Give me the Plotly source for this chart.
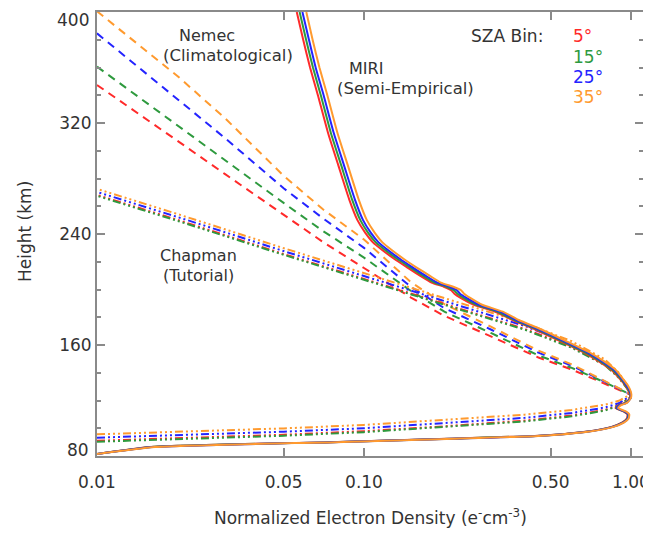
import plotly.graph_objects as go

# ---------------- data ----------------
sza_labels = ["5°", "15°", "25°", "35°"]
colors = ["#FF2A2A", "#2E9A3E", "#2424FF", "#FF9A2E"]

# MIRI (semi-empirical), solid lines: shared heights, one x array per SZA bin
h_miri = [81.5, 86.5, 90, 92.5, 94.5, 97.5, 101, 104, 107, 110, 112, 114.5, 116.5,
          118.5, 122, 126, 130, 136, 142, 148, 154, 163, 171, 178, 184, 189, 194,
          197, 199.5, 202, 205, 210, 216, 222, 228.5, 234, 241, 250, 265, 290, 313,
          340, 360, 380, 400]
x_miri_5 = [0.0100, 0.0158, 0.074, 0.205, 0.435, 0.675, 0.845, 0.925, 0.965, 0.97,
            0.94, 0.875, 0.895, 0.955, 0.995, 0.985, 0.96, 0.905, 0.845, 0.76, 0.675,
            0.54, 0.44, 0.36, 0.31, 0.258, 0.23, 0.218, 0.212, 0.199, 0.179, 0.162,
            0.145, 0.130, 0.117, 0.108, 0.101, 0.0945, 0.0880, 0.0800, 0.0733,
            0.0672, 0.0628, 0.0592, 0.0560]
x_miri_15 = [0.0100, 0.0160, 0.075, 0.21, 0.44, 0.68, 0.85, 0.93, 0.97, 0.975,
             0.945, 0.88, 0.90, 0.96, 0.997, 0.99, 0.965, 0.913, 0.855, 0.771, 0.686,
             0.549, 0.448, 0.366, 0.316, 0.264, 0.236, 0.224, 0.217, 0.204, 0.1835,
             0.166, 0.1486, 0.1333, 0.120, 0.1107, 0.1035, 0.0969, 0.0902, 0.0820,
             0.0751, 0.0689, 0.0644, 0.0607, 0.0574]
x_miri_25 = [0.0100, 0.0162, 0.076, 0.215, 0.445, 0.685, 0.855, 0.935, 0.975, 0.98,
             0.95, 0.885, 0.905, 0.965, 0.998, 0.995, 0.97, 0.922, 0.866, 0.783, 0.697,
             0.558, 0.455, 0.372, 0.323, 0.270, 0.242, 0.229, 0.223, 0.209, 0.188,
             0.170, 0.152, 0.1365, 0.1229, 0.1134, 0.1060, 0.0992, 0.0924, 0.0840,
             0.0770, 0.0706, 0.0659, 0.0622, 0.0588]
x_miri_35 = [0.0100, 0.0165, 0.078, 0.22, 0.45, 0.69, 0.86, 0.94, 0.98, 0.985,
             0.96, 0.895, 0.915, 0.97, 1.0, 1.0, 0.98, 0.93, 0.877, 0.796, 0.71,
             0.569, 0.464, 0.380, 0.331, 0.277, 0.250, 0.237, 0.231, 0.216, 0.194,
             0.176, 0.157, 0.141, 0.127, 0.1172, 0.1096, 0.1025, 0.0955, 0.0868,
             0.0795, 0.0729, 0.0681, 0.0642, 0.0608]

# Nemec (climatological), dashed lines: shared densities, one height array per SZA bin
x_nemec = [0.01, 0.015, 0.02, 0.03, 0.05, 0.07, 0.1, 0.15, 0.2, 0.3, 0.45, 0.6, 0.8, 1.0]
h_nemec_5 = [347.4, 324.1, 307.2, 283.5, 253.7, 234.4, 215.5, 194.2, 181, 166.1, 151, 142.3, 132.3, 124]
h_nemec_15 = [360.6, 335.8, 318.2, 293.5, 262.4, 242.3, 223.0, 198.9, 184, 168.5, 152.5, 143.5, 133, 124.2]
h_nemec_25 = [384.6, 357.1, 337.4, 309.5, 273.0, 251.5, 230.0, 201.8, 186.5, 171, 154.5, 145, 133.5, 124.3]
h_nemec_35 = [400.5, 373.3, 353.9, 323.9, 282.0, 258.0, 236.0, 205.2, 189.5, 173, 156, 146, 134, 124.5]

# Chapman (tutorial), dash-dot-dot-dot lines: bottomside then topside
x_chap = [0.01, 0.02, 0.05, 0.1, 0.2, 0.4, 0.6, 0.8, 0.9, 1.0,
          0.97, 0.9, 0.8, 0.6, 0.4, 0.2, 0.1, 0.05, 0.02, 0.01]
h_chap_5 = [91.0, 92.8, 95.3, 97.9, 101.4, 105.5, 109.2, 113.3, 116.6, 122.8,
            128.6, 136.9, 145.8, 158.6, 171.6, 189.6, 207.6, 225.6, 250.2, 268.2]
h_chap_15 = [90.3, 92.1, 94.6, 97.2, 100.8, 104.9, 108.6, 112.8, 116.2, 122.5,
             128.3, 136.4, 145.3, 158.0, 171.0, 189.0, 207.0, 225.0, 249.5, 267.5]
h_chap_25 = [93.2, 95.0, 97.5, 100.0, 103.5, 107.5, 111.0, 115.0, 118.0, 123.5,
             129.7, 138.4, 147.7, 160.7, 173.7, 191.7, 209.7, 227.7, 252.3, 270.3]
h_chap_35 = [95.6, 97.4, 99.9, 102.4, 105.9, 109.8, 113.2, 117.0, 119.8, 124.5,
             131.0, 140.0, 149.5, 162.7, 175.8, 193.8, 211.8, 229.8, 254.4, 272.5]

x_tickvals = [0.01, 0.05, 0.1, 0.5, 1.0]
x_ticktext = ["0.01", "0.05", "0.10", "0.50", "1.00"]
# inner labelled y ticks; the end labels "80" and "400" are drawn nudged inward
# (as in the original) via annotations below
y_tickvals = [160, 240, 320]
y_end_labels = ["80", "400"]
y_minor = [80, 100, 120, 140, 160, 180, 200, 220, 240, 260, 280, 300, 320, 340, 360, 380, 400]

# ---------------- figure ----------------
FONT = "DejaVu Sans"
fig = go.Figure()

miri_x = [x_miri_5, x_miri_15, x_miri_25, x_miri_35]
nemec_h = [h_nemec_5, h_nemec_15, h_nemec_25, h_nemec_35]
chap_h = [h_chap_5, h_chap_15, h_chap_25, h_chap_35]

for i in range(4):
    fig.add_trace(go.Scatter(x=x_nemec, y=nemec_h[i], mode="lines",
                             line=dict(color=colors[i], width=2, dash="8px,6px"),
                             name="Nemec " + sza_labels[i], showlegend=False))
for i in range(4):
    fig.add_trace(go.Scatter(x=x_chap, y=chap_h[i], mode="lines",
                             line=dict(color=colors[i], width=2,
                                       dash="8px,3px,2px,3px,2px,3px,2px,3px"),
                             name="Chapman " + sza_labels[i], showlegend=False))
for i in range(4):
    fig.add_trace(go.Scatter(x=miri_x[i], y=h_miri, mode="lines",
                             line=dict(color=colors[i], width=2, shape="spline", smoothing=0.5),
                             name="MIRI " + sza_labels[i], showlegend=False))

# the page body has an 8px margin, so the figure is sized/offset to compensate
W, H = 643, 525
L, R, T, B = 89, 8, 4, 77
pw, ph = W - L - R, H - T - B
PLOT_LEFT, PLOT_BOTTOM = 97, 456   # plot area position in the browser window


def px(xp):
    return (xp - PLOT_LEFT) / pw


def py(yp):
    return (PLOT_BOTTOM - yp) / ph


txt = "#333333"
ann = []


def add(text, x, y, color=txt, size=16, xanchor="center"):
    ann.append(dict(text=text, x=px(x), y=py(y), xref="paper", yref="paper",
                    showarrow=False, xanchor=xanchor, yanchor="middle",
                    font=dict(family=FONT, size=size, color=color)))


add("Nemec", 207, 35.5)
add("(Climatological)", 228, 55, size=16.5)
add("MIRI", 366, 68.5)
add("(Semi-Empirical)", 405, 88, size=16.5)
add("Chapman", 198, 255.5)
add("(Tutorial)", 198, 275)
add("SZA Bin:", 507, 36, size=17)
for i, lab in enumerate(sza_labels):
    add(lab, 571, 36 + i * 20.5, color=colors[i], size=17, xanchor="left")
add("Normalized Electron Density (e<sup>-</sup>cm<sup>-3</sup>)", 370, 517, size=17)
add(y_end_labels[0], 91, 450, size=17, xanchor="right")
add(y_end_labels[1], 91, 20, size=17, xanchor="right")
ann.append(dict(text="Height (km)", x=px(25), y=py(232), xref="paper", yref="paper",
                showarrow=False, textangle=-90, xanchor="center", yanchor="middle",
                font=dict(family=FONT, size=17, color=txt)))

axis_common = dict(showgrid=False, zeroline=False, showline=True, linecolor="#8a8a8a",
                   linewidth=2, mirror="ticks", ticks="inside", tickcolor="#8a8a8a",
                   tickwidth=1.5, ticklen=8, automargin=False, ticklabeloverflow="allow",
                   tickfont=dict(family=FONT, size=17, color=txt))

fig.update_layout(
    width=W, height=H,
    margin=dict(l=L, r=R, t=T, b=B),
    plot_bgcolor="white", paper_bgcolor="white",
    showlegend=False,
    annotations=ann,
    xaxis=dict(type="log", range=[-2, 0.045], tickvals=x_tickvals, ticktext=x_ticktext,
               ticklabelstandoff=10, **axis_common),
    yaxis=dict(range=[80, 400], tickvals=y_tickvals,
               minor=dict(tickvals=y_minor, ticks="inside", ticklen=4,
                          tickcolor="#8a8a8a", tickwidth=1.5),
               **axis_common),
)

fig.write_html("out.html")
